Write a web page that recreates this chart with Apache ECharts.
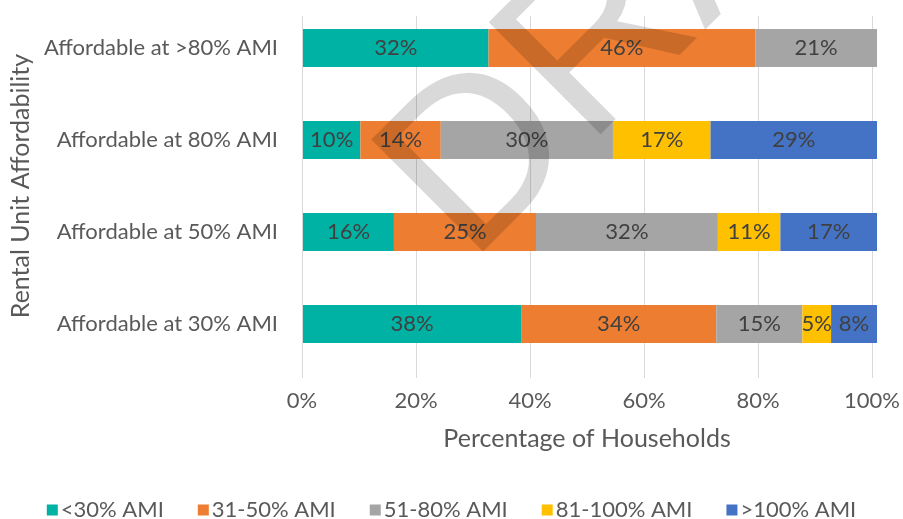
<!DOCTYPE html>
<html>
<head>
<meta charset="utf-8">
<script src="https://cdn.jsdelivr.net/npm/echarts@6/dist/echarts.min.js"></script>
<style>
html,body{margin:0;padding:0;background:#fff;}
#chart{width:903px;height:519px;}
</style>
</head>
<body>
<div id="chart"></div>
<script>
// Categories, top to bottom
const categories = ['Affordable at >80% AMI', 'Affordable at 80% AMI', 'Affordable at 50% AMI', 'Affordable at 30% AMI'];
// Series values (percent of households, as labelled)
const seriesNames = ['<30% AMI', '31-50% AMI', '51-80% AMI', '81-100% AMI', '>100% AMI'];
const amiUnder30 = [32, 10, 16, 38];
const ami31to50 = [46, 14, 25, 34];
const ami51to80 = [21, 30, 32, 15];
const ami81to100 = [null, 17, 11, 5];
const amiOver100 = [null, 29, 17, 8];
const xTicks = [0, 20, 40, 60, 80, 100];

const rawSeries = [amiUnder30, ami31to50, ami51to80, ami81to100, amiOver100];
const colors = ['#00B2A3', '#ED7D31', '#A5A5A5', '#FFC000', '#4472C4'];
const FONT = 'Lato';

// 100% stacked: each row scaled by its total
const rowTotals = categories.map((_, i) => rawSeries.reduce((s, arr) => s + (arr[i] || 0), 0));

const series = rawSeries.map((arr, si) => ({
  name: seriesNames[si],
  type: 'bar',
  stack: 'total',
  xAxisIndex: 0,
  yAxisIndex: 0,
  barWidth: 38,
  itemStyle: { color: colors[si] },
  label: {
    show: true,
    position: 'inside',
    color: '#404040',
    fontFamily: FONT,
    fontSize: 22,
    formatter: p => arr[p.dataIndex] == null ? '' : arr[p.dataIndex] + '%'
  },
  emphasis: { disabled: true },
  data: arr.map((v, i) => v == null ? null : v / rowTotals[i] * 100)
}));

const chart = echarts.init(document.getElementById('chart'), null, { renderer: 'canvas' });
chart.setOption({
  animation: false,
  backgroundColor: '#fff',
  textStyle: { fontFamily: FONT },
  grid: [
    { left: 302, right: 26, top: 2, height: 368 },
    { left: 302, right: 26, top: 16, height: 362 }
  ],
  xAxis: [
    { gridIndex: 0, type: 'value', min: 0, max: 100, show: false },
    {
      gridIndex: 1, type: 'value', min: 0, max: 100, interval: 20,
      axisLine: { show: false }, axisTick: { show: false },
      splitLine: { show: true, lineStyle: { color: '#D9D9D9', width: 1 } },
      axisLabel: { color: '#595959', fontSize: 22, fontFamily: FONT, margin: 12,
        formatter: v => xTicks.includes(v) ? v + '%' : '' },
      name: 'Percentage of Households',
      nameLocation: 'middle', nameGap: 48,
      nameTextStyle: { color: '#595959', fontSize: 25, fontFamily: FONT }
    }
  ],
  yAxis: [
    {
      gridIndex: 0, type: 'category', data: categories, inverse: true,
      axisLine: { show: false }, axisTick: { show: false },
      axisLabel: { color: '#595959', fontSize: 22, fontFamily: FONT, margin: 25 },
      name: 'Rental Unit Affordability',
      nameLocation: 'middle', nameGap: 264,
      nameTextStyle: { color: '#595959', fontSize: 25, fontFamily: FONT }
    },
    { gridIndex: 1, type: 'category', data: categories, show: false }
  ],
  legend: {
    data: seriesNames,
    left: 'center', top: 494,
    icon: 'rect', itemWidth: 11, itemHeight: 11, itemGap: 34,
    textStyle: { color: '#595959', fontSize: 22, fontFamily: FONT, lineHeight: 22, padding: [0, 0, 0, -2] },
    selectedMode: false
  },
  series: series,
  graphic: [{
    type: 'text',
    silent: true,
    z: 100,
    x: 425, y: 220,
    rotation: Math.PI / 4,
    style: {
      text: 'DRAFT',
      font: 'normal 230px "Liberation Sans"',
      fill: 'rgba(0,0,0,0.15)',
      textAlign: 'left',
      textVerticalAlign: 'middle',
      verticalAlign: 'middle'
    }
  }]
});
</script>
</body>
</html>
